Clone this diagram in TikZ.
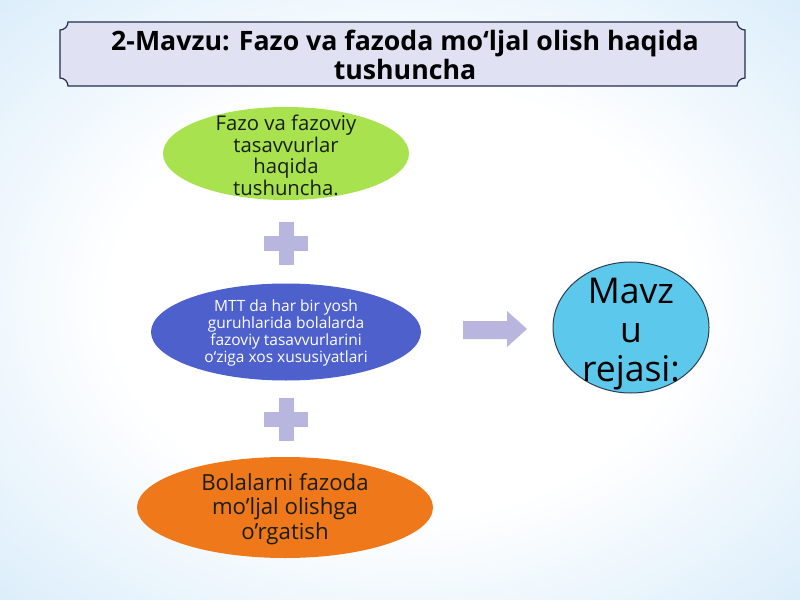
\documentclass[tikz,border=0pt]{standalone}
\usepackage{fontspec}
\setmainfont{Open Sans}
\usetikzlibrary{shapes.geometric}
\definecolor{bgmid}{RGB}{190,223,247}
\definecolor{bgedge}{RGB}{160,205,241}
\definecolor{titlefill}{RGB}{224,226,243}
\definecolor{titleline}{RGB}{35,45,75}
\definecolor{gfill}{RGB}{168,226,78}
\definecolor{bfill}{RGB}{78,96,204}
\definecolor{ofill}{RGB}{238,120,26}
\definecolor{cfill}{RGB}{92,200,236}
\definecolor{cline}{RGB}{44,62,80}
\definecolor{plusc}{RGB}{184,182,222}
\definecolor{darktext}{RGB}{25,30,20}
\pgfdeclareradialshading{bgshade}{\pgfpoint{0bp}{0bp}}{color(0bp)=(white); color(18bp)=(white); color(50bp)=(bgmid); color(71bp)=(bgedge)}
\begin{document}
\begin{tikzpicture}[x=1bp,y=-1bp,
  ellip/.style={ellipse, inner sep=0pt, draw=none},
  etext/.style={align=center, inner sep=0pt},
  plusshape/.style={fill=plusc, draw=none}]
\useasboundingbox (0,0) rectangle (800,600);
\shade[shading=bgshade] (0,0) rectangle (800,600);
% title banner
\filldraw[fill=titlefill, draw=titleline, line width=1.2bp]
  (68,22) -- (737,22) .. controls (737,26.4) and (740.6,30) .. (745,30)
  -- (745,78) .. controls (740.6,78) and (737,81.6) .. (737,86)
  -- (68,86) .. controls (68,81.6) and (64.4,78) .. (60,78)
  -- (60,30) .. controls (64.4,30) and (68,26.4) .. (68,22) -- cycle;
\node[etext, font=\fontsize{26.7bp}{29.5bp}\selectfont\bfseries, text=black] (title) at (405,55)
  {2-Mavzu: Fazo va fazoda mo‘ljal olish haqida\\tushuncha};
% green ellipse
\node[ellip, fill=gfill, minimum width=246bp, minimum height=93bp] (g) at (286,153.5) {};
\node[etext, font=\fontsize{20.3bp}{21.7bp}\selectfont, text=darktext] (gt) at (286,155.5)
  {Fazo va fazoviy\\tasavvurlar\\haqida\\tushuncha.};
% plus 1
\fill[plusshape] (264,236) rectangle (308,251);
\fill[plusshape] (278.5,222) rectangle (293.5,265);
% blue ellipse
\node[ellip, fill=bfill, minimum width=270bp, minimum height=97bp] (b) at (286,332) {};
\node[etext, font=\fontsize{15.5bp}{17.2bp}\selectfont, text=white] (bt) at (286,333)
  {MTT da har bir yosh\\guruhlarida bolalarda\\fazoviy tasavvurlarini\\o‘ziga xos xususiyatlari};
% plus 2
\fill[plusshape] (264,412) rectangle (308,427);
\fill[plusshape] (278.5,398) rectangle (293.5,441);
% orange ellipse
\node[ellip, fill=ofill, minimum width=296bp, minimum height=101bp] (o) at (285,507.5) {};
\node[etext, font=\fontsize{22.2bp}{24.5bp}\selectfont, text=darktext] (ot) at (285,509)
  {Bolalarni fazoda\\mo’ljal olishga\\o’rgatish};
% arrow
\fill[plusshape] (463,321) -- (507,321) -- (507,311) -- (527,329) -- (507,347) -- (507,339) -- (463,339) -- cycle;
% circle
\node[ellip, fill=cfill, draw=cline, line width=1bp, minimum width=156bp, minimum height=131bp] (c) at (631,327.5) {};
\node[etext, font=\fontsize{35.5bp}{39bp}\selectfont, text=black] (ct) at (631,334)
  {Mavz\\u\\rejasi:};
\end{tikzpicture}
\end{document}
